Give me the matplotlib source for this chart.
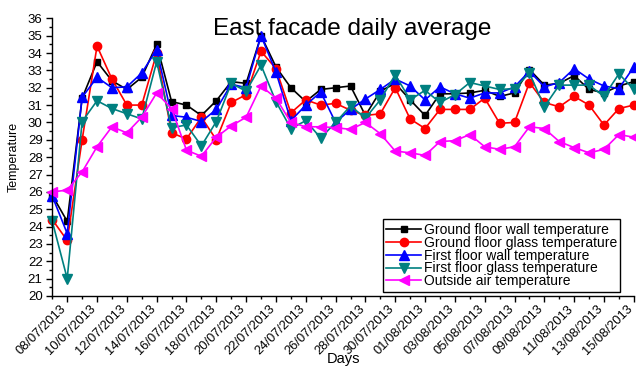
import matplotlib
matplotlib.use("Agg")
import matplotlib.pyplot as plt
from matplotlib.ticker import MultipleLocator, FixedLocator
from matplotlib.transforms import ScaledTranslation, blended_transform_factory
import datetime as dt

plt.rcParams['font.family'] = ['Liberation Sans', 'DejaVu Sans']

start = dt.date(2013, 7, 7)
days = [(start + dt.timedelta(days=i)).strftime("%d/%m/%Y") for i in range(40)]

ground_wall = [25.8, 24.3, 31.4, 33.5, 32.4, 31.9, 32.6, 34.5, 31.2, 31.0,
               30.4, 31.25, 32.35, 32.25, 35.0, 33.2, 32.0, 31.2, 31.9, 32.0,
               32.1, 30.4, 31.8, 32.25, 31.3, 30.4, 31.65, 31.65, 31.7, 31.85,
               31.5, 31.7, 33.05, 32.15, 32.25, 32.7, 31.9, 31.7, 32.1, 32.35]
ground_glass = [24.4, 23.2, 29.0, 34.4, 32.5, 31.0, 31.0, 34.0, 29.4, 29.05,
                30.3, 29.0, 31.15, 31.6, 34.1, 33.1, 30.55, 31.3, 31.0, 31.1,
                30.7, 30.4, 30.5, 32.0, 30.2, 29.65, 30.75, 30.75, 30.75, 31.4,
                29.95, 30.0, 32.3, 31.15, 30.9, 31.5, 31.0, 29.85, 30.8, 31.0]
first_wall = [25.75, 23.6, 31.45, 32.6, 32.0, 32.05, 32.85, 34.2, 30.4, 30.3,
              30.05, 30.75, 32.2, 32.0, 35.0, 32.9, 30.1, 31.0, 31.75, 30.0,
              30.75, 31.35, 31.9, 32.5, 32.1, 31.3, 32.05, 31.65, 31.4, 31.7,
              31.7, 32.05, 32.95, 32.05, 32.3, 33.1, 32.5, 32.1, 31.95, 33.2]
first_glass = [24.3, 21.0, 30.05, 31.25, 30.8, 30.5, 30.2, 33.5, 29.7, 29.85,
               28.65, 30.05, 32.25, 31.8, 33.3, 31.2, 29.65, 30.1, 29.1, 30.0,
               30.95, 30.25, 31.3, 32.75, 31.3, 31.85, 31.15, 31.6, 32.3, 32.1,
               31.9, 31.95, 32.85, 30.9, 32.15, 32.15, 32.15, 31.5, 32.8, 31.9]
outside_air = [26.0, 26.1, 27.15, 28.6, 29.75, 29.4, 30.3, 31.7, 30.8, 28.4,
               28.05, 29.15, 29.8, 30.3, 32.1, 31.4, 30.0, 29.75, 29.75, 29.7,
               29.6, 30.0, 29.35, 28.35, 28.25, 28.1, 28.9, 28.95, 29.3, 28.6,
               28.45, 28.6, 29.75, 29.65, 28.9, 28.55, 28.25, 28.45, 29.3, 29.15]

series = [
    ("Ground floor wall temperature", ground_wall, "black", "s", 5.0),
    ("Ground floor glass temperature", ground_glass, "#ff0000", "o", 6.0),
    ("First floor wall temperature", first_wall, "#0000ff", "^", 6.5),
    ("First floor glass temperature", first_glass, "#008080", "v", 6.5),
    ("Outside air temperature", outside_air, "#ff00ff", "<", 6.5),
]

fig = plt.figure(figsize=(6.36, 3.67), dpi=100)
ax = fig.add_axes([52.3 / 636, 71 / 367, 581.5 / 636, 277.7 / 367])

x = list(range(len(days)))
for label, vals, col, mk, ms in series:
    ax.plot(x, vals, color=col, marker=mk, markersize=ms, linewidth=1.2,
            label=label, clip_on=False)

ax.set_xlim(0, 39)
ax.set_ylim(20, 36)
ax.yaxis.set_major_locator(MultipleLocator(1))
ax.yaxis.set_minor_locator(MultipleLocator(0.5))
major_idx = list(range(1, 40, 2))
ax.xaxis.set_major_locator(FixedLocator(major_idx))
ax.xaxis.set_minor_locator(FixedLocator(list(range(0, 40, 2))))
ax.tick_params(axis='x', labelbottom=False)

# rotated date labels, nudged slightly left of their ticks
lbl_tr = blended_transform_factory(ax.transData, ax.transAxes) + \
    ScaledTranslation(-7 / 100, -7 / 100, fig.dpi_scale_trans)
for i in major_idx:
    ax.text(i, 0, days[i], transform=lbl_tr, rotation=45, ha='right',
            va='top', rotation_mode='anchor', fontsize=9.3, clip_on=False)

ax.tick_params(axis='y', labelsize=9.5)
ax.tick_params(which='major', direction='out', length=4, width=1, pad=3)
ax.tick_params(which='minor', direction='out', length=2.5, width=1)
for s in ('top', 'right'):
    ax.spines[s].set_visible(False)
for s in ('left', 'bottom'):
    ax.spines[s].set_linewidth(1.0)

fig.text(14 / 636, 1 - 157 / 367, "Temperature", rotation=90, ha='center',
         va='center', fontsize=9)
fig.text(344 / 636, 1 - 359 / 367, "Days", ha='center', va='center',
         fontsize=10.5)
fig.text(352 / 636, 1 - 34.5 / 367, "East facade daily average", ha='center',
         va='baseline', fontsize=17.5)

leg = ax.legend(loc='upper left', bbox_to_anchor=(382.7 / 636, 1 - 219.3 / 367),
                bbox_transform=fig.transFigure, fontsize=10, frameon=True,
                fancybox=False, edgecolor='black', framealpha=1,
                labelspacing=-0.08, handlelength=2.5, handletextpad=0.2,
                borderpad=0.25, borderaxespad=0)
leg.get_frame().set_linewidth(1.0)

fig.savefig("out.png", dpi=100)
